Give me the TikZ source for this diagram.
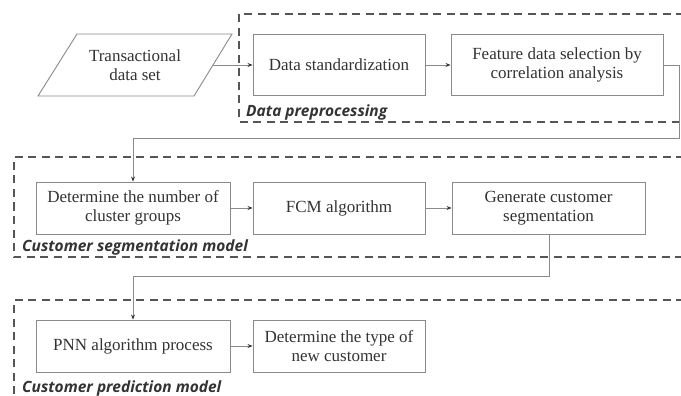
\documentclass[tikz,border=0pt]{standalone}
\usepackage{fontspec}
\setmainfont{Liberation Serif}
\newfontfamily\labelfont{Open Sans}
\usetikzlibrary{arrows.meta}
\definecolor{boxline}{HTML}{8A8A8A}
\definecolor{txt}{HTML}{333333}
\definecolor{dashline}{HTML}{555555}
\tikzset{
  boxfont/.style={font=\fontsize{17}{19}\selectfont},
  procbox/.style={draw=boxline, line width=0.9pt, fill=white, text=txt, align=center,
    boxfont, inner sep=0pt},
  group/.style={draw=dashline, line width=1.3pt, dash pattern=on 8pt off 5.5pt},
  grouplabel/.style={text=txt, anchor=base west, inner sep=0pt,
    font=\labelfont\bfseries\itshape\fontsize{15.5}{17}\selectfont},
  flow/.style={draw=boxline, line width=0.9pt, -{Stealth[length=5pt,width=4pt,color=black!80]}}
}
\begin{document}
\begin{tikzpicture}[x=1pt,y=-1pt]
\useasboundingbox (0,0) rectangle (681,396);
\fill[white] (0,0) rectangle (681,396);

% dashed group frames (open to the right edge)
\draw[group] (684,14) -- (239,14) -- (239,122) -- (684,122);
\draw[group] (684,157) -- (14,157) -- (14,257) -- (684,257);
\draw[group] (684,300) -- (14,300) -- (14,399);

% input data (parallelogram)
\coordinate (pTL) at (77,34);
\coordinate (pTR) at (232,34);
\coordinate (pBR) at (194,96);
\coordinate (pBL) at (38,96);
\draw[boxline, line width=0.9pt, fill=white] (pTL) -- (pTR) -- (pBR) -- (pBL) -- cycle;
\node[text=txt, align=center, boxfont] (input) at (135,65) {Transactional\\data set};
\coordinate (inR) at (213,65);

% stage 1: data preprocessing
\node[procbox, minimum width=172pt, minimum height=61pt] (std) at (339,65) {Data standardization};
\node[procbox, minimum width=212pt, minimum height=61pt] (feat) at (557,65) {Feature data selection by\\correlation analysis};
\node[grouplabel] (lab1) at (246,117) {Data preprocessing};

% stage 2: customer segmentation
\node[procbox, minimum width=194pt, minimum height=52pt] (ncl) at (133,208) {Determine the number of\\cluster groups};
\node[procbox, minimum width=172pt, minimum height=52pt] (fcm) at (339,208) {FCM algorithm};
\node[procbox, minimum width=193pt, minimum height=52pt] (seg) at (548.5,208) {Generate customer\\segmentation};
\node[grouplabel] (lab2) at (22,251) {Customer segmentation model};

% stage 3: customer prediction
\node[procbox, minimum width=194pt, minimum height=52pt] (pnn) at (133,346) {PNN algorithm process};
\node[procbox, minimum width=172pt, minimum height=52pt] (typ) at (339,346) {Determine the type of\\new customer};
\node[grouplabel] (lab3) at (22,392) {Customer prediction model};

% connectors
\draw[flow] (inR) -- (std.west);
\draw[flow] (std) -- (feat);
\draw[flow] (ncl) -- (fcm);
\draw[flow] (fcm) -- (seg);
\draw[flow] (pnn) -- (typ);
\coordinate (c1) at (679,65);
\coordinate (c2) at (679,138);
\coordinate (c3) at (133,138);
\draw[flow] (feat.east) -- (c1) -- (c2) -- (c3) -- (ncl.north);
\coordinate (d1) at (549,276);
\coordinate (d2) at (133,276);
\draw[flow] (seg.south -| d1) -- (d1) -- (d2) -- (pnn.north);
\end{tikzpicture}
\end{document}
